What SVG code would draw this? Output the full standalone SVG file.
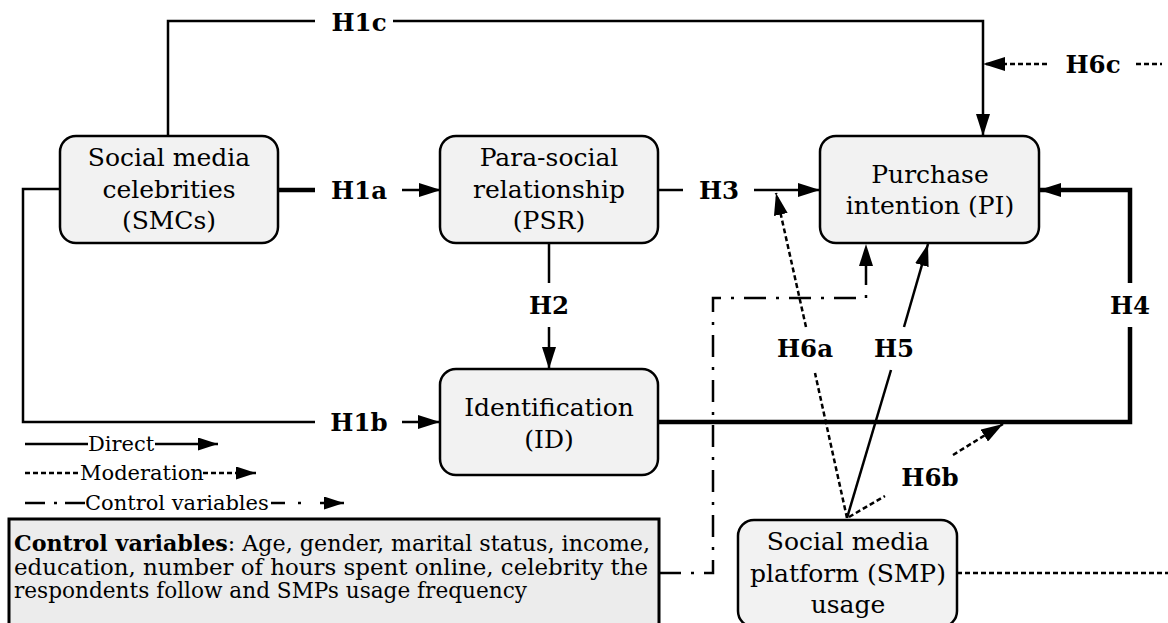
<svg xmlns="http://www.w3.org/2000/svg" width="1168" height="623" viewBox="0 0 1168 623">
<style>
.node{fill:#f2f2f2;stroke:#000;stroke-width:2.5}
.nt{font-family:"DejaVu Serif",serif;font-size:25px;text-anchor:middle;fill:#000}
.hl{font-family:"DejaVu Serif",serif;font-size:24.5px;font-weight:bold;text-anchor:middle;fill:#000}
.lg{font-family:"DejaVu Serif",serif;font-size:21px;fill:#000}
.ct{font-family:"DejaVu Serif",serif;font-size:21.5px;fill:#000}
.ln{fill:none;stroke:#000;stroke-width:2.5}
.thick{fill:none;stroke:#000;stroke-width:4.5}
.dot{fill:none;stroke:#000;stroke-width:2.5;stroke-dasharray:5 3}
.dd{fill:none;stroke:#000;stroke-width:2.5;stroke-dasharray:22 10 3 10}
</style>
<defs>
<marker id="a" viewBox="0 0 22 14" refX="22" refY="7" markerWidth="22" markerHeight="14" markerUnits="userSpaceOnUse" orient="auto">
<path d="M0,0 L22,7 L0,14 z" fill="#000"/>
</marker>
<marker id="s" viewBox="0 0 20 13" refX="20" refY="6.5" markerWidth="20" markerHeight="13" markerUnits="userSpaceOnUse" orient="auto">
<path d="M0,0 L20,6.5 L0,13 z" fill="#000"/>
</marker>
</defs>
<g id="connectors">
<!-- H1c -->
<polyline class="ln" points="168,136 168,21 315,21"/>
<polyline class="ln" points="393,21 983,21 983,136" marker-end="url(#a)"/>
<text class="hl" x="359" y="31">H1c</text>
<!-- H6c -->
<line class="dot" x1="1047" y1="64" x2="983" y2="64" marker-end="url(#a)"/>
<text class="hl" x="1093" y="73">H6c</text>
<line class="dot" x1="1136" y1="64" x2="1162" y2="64"/>
<!-- H1a -->
<line class="thick" x1="278" y1="190" x2="315" y2="190"/>
<text class="hl" x="359" y="199">H1a</text>
<line class="ln" x1="402" y1="190" x2="441" y2="190" marker-end="url(#a)"/>
<!-- H3 -->
<line class="ln" x1="658" y1="190" x2="683" y2="190"/>
<text class="hl" x="719" y="199">H3</text>
<line class="ln" x1="754" y1="190" x2="820" y2="190" marker-end="url(#a)"/>
<!-- H2 -->
<line class="ln" x1="549" y1="243" x2="549" y2="283"/>
<text class="hl" x="549" y="314">H2</text>
<line class="ln" x1="549" y1="327" x2="549" y2="369" marker-end="url(#a)"/>
<!-- H1b -->
<polyline class="ln" points="60,189 23,189 23,422 315,422"/>
<text class="hl" x="359" y="431">H1b</text>
<line class="ln" x1="402" y1="422" x2="440" y2="422" marker-end="url(#a)"/>
<!-- H4 -->
<polyline class="thick" points="658,422 1130,422 1130,327"/>
<text class="hl" x="1130" y="314">H4</text>
<polyline class="thick" points="1130,283 1130,190 1039,190" marker-end="url(#a)"/>
<!-- H5 -->
<line class="ln" x1="847" y1="518" x2="891" y2="370"/>
<text class="hl" x="894" y="357">H5</text>
<line class="ln" x1="904" y1="327" x2="928" y2="244" marker-end="url(#a)"/>
<!-- H6a -->
<line class="dot" x1="847" y1="518" x2="815" y2="373"/>
<text class="hl" x="805" y="357">H6a</text>
<line class="dot" x1="806" y1="327" x2="776" y2="193" marker-end="url(#a)"/>
<!-- H6b -->
<line class="dot" x1="849" y1="517" x2="885" y2="496"/>
<text class="hl" x="930" y="486">H6b</text>
<line class="dot" x1="953" y1="455" x2="1003" y2="424" marker-end="url(#a)"/>
<!-- SMP moderation line -->
<line class="dot" x1="957" y1="573" x2="1168" y2="573"/>
<!-- Control variables -->
<polyline class="dd" points="659,573 713,573 713,298 866,298 866,244" marker-end="url(#a)"/>
</g>
<g id="smc">
<rect class="node" x="60" y="136" width="218" height="107" rx="16"/>
<text class="nt" x="169" y="166">Social media</text>
<text class="nt" x="169" y="198">celebrities</text>
<text class="nt" x="169" y="229">(SMCs)</text>
</g>
<g id="psr">
<rect class="node" x="440" y="136" width="218" height="107" rx="16"/>
<text class="nt" x="549" y="166">Para-social</text>
<text class="nt" x="549" y="198">relationship</text>
<text class="nt" x="549" y="229">(PSR)</text>
</g>
<g id="pi">
<rect class="node" x="820" y="136" width="219" height="107" rx="16"/>
<text class="nt" x="930" y="183">Purchase</text>
<text class="nt" x="930" y="214">intention (PI)</text>
</g>
<g id="id">
<rect class="node" x="440" y="369" width="218" height="106" rx="16"/>
<text class="nt" x="549" y="416">Identification</text>
<text class="nt" x="549" y="448">(ID)</text>
</g>
<g id="smp">
<rect class="node" x="738" y="520" width="219" height="107" rx="16"/>
<text class="nt" x="848" y="550">Social media</text>
<text class="nt" x="848" y="582">platform (SMP)</text>
<text class="nt" x="848" y="613">usage</text>
</g>
<g id="legend">
<line class="ln" x1="25" y1="444" x2="88" y2="444"/>
<text class="lg" x="88" y="451">Direct</text>
<line class="ln" x1="155" y1="444" x2="218" y2="444" marker-end="url(#s)"/>
<line class="dot" x1="25" y1="473" x2="80" y2="473"/>
<text class="lg" x="80" y="480">Moderation</text>
<line class="dot" x1="203" y1="473" x2="256" y2="473" marker-end="url(#s)"/>
<line class="ln" x1="25" y1="503" x2="45" y2="503"/>
<line class="ln" x1="54" y1="503" x2="57" y2="503"/>
<line class="ln" x1="65" y1="503" x2="85" y2="503"/>
<text class="lg" x="85" y="510">Control variables</text>
<line class="ln" x1="271" y1="503" x2="285" y2="503"/>
<line class="ln" x1="298" y1="503" x2="301" y2="503"/>
<line class="ln" x1="320" y1="503" x2="344" y2="503" marker-end="url(#s)"/>
</g>
<g id="controls">
<rect x="9" y="519" width="650" height="120" fill="#ececec" stroke="#000" stroke-width="3"/>
<text class="ct" x="14" y="551" textLength="636" lengthAdjust="spacingAndGlyphs"><tspan font-weight="bold">Control variables</tspan>: Age, gender, marital status, income,</text>
<text class="ct" x="14" y="575" textLength="634" lengthAdjust="spacingAndGlyphs">education, number of hours spent online, celebrity the</text>
<text class="ct" x="14" y="598" textLength="513" lengthAdjust="spacingAndGlyphs">respondents follow and SMPs usage frequency</text>
</g>
</svg>
